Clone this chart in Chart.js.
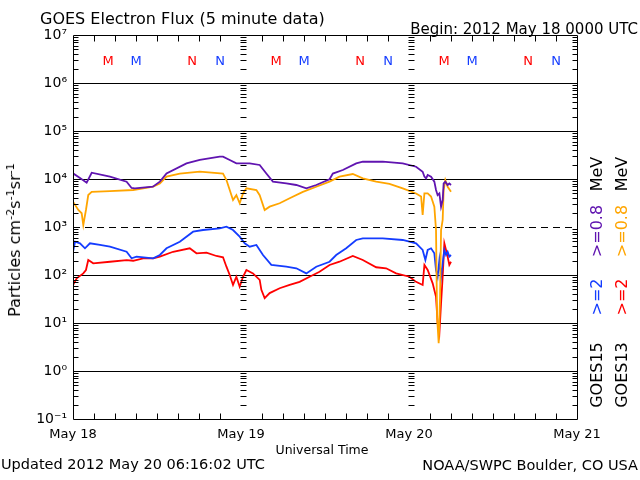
<!DOCTYPE html>
<html><head><meta charset="utf-8">
<script src="https://cdn.jsdelivr.net/npm/chart.js@4"></script>
<style>
html,body{margin:0;padding:0;background:#fff;}
#wrap{position:relative;width:640px;height:480px;overflow:hidden;font-family:"DejaVu Sans",sans-serif;background:#fff;}
canvas{position:absolute;left:0;top:0;}
.t{position:absolute;white-space:nowrap;line-height:1;color:#000;}
.t sup{font-size:70%;vertical-align:0.55em;line-height:0;}
</style></head><body>
<div id="wrap"><canvas id="c" width="640" height="480"></canvas></div>
<script>
// ---- data (hours since 2012-05-18 00:00 UTC, particles cm^-2 s^-1 sr^-1) ----
const dayLabels = ["May 18", "May 19", "May 20", "May 21"];
const yTickValues = [0.1, 1, 10, 100, 1000, 1e4, 1e5, 1e6, 1e7];
const yTickLabels = ["10\u207B\u00B9", "10\u2070", "10\u00B9", "10\u00B2", "10\u00B3", "10\u2074", "10\u2075", "10\u2076", "10\u2077"];
const gridDecades = [1, 10, 100, 1000, 1e4, 1e5, 1e6];
const dashedDecade = 1000;

// GOES15 >=0.8 MeV
const g15_08 = [[0,13100],[1.0,10500],[1.95,8400],[2.67,13500],[5.28,11200],[7.66,8800],[8.37,6500],[8.84,6400],[11.41,6900],[12.41,8800],[13.36,13000],[16.21,21200],[18.11,24900],[20.96,29200],[21.43,29200],[22.39,24900],[23.34,21200],[25.24,21200],[26.67,19600],[27.62,13000],[28.56,8800],[30.47,8100],[31.9,7500],[33.33,6400],[34.75,7500],[36.65,9900],[37.12,13000],[38.55,15400],[40.46,21200],[41.4,22900],[44.25,22900],[47.1,21200],[49.01,18000],[49.95,14200],[50.2,11200],[50.44,10300],[50.67,12100],[51.15,11200],[51.62,8800],[51.86,5900],[52.09,4600],[52.34,5000],[52.58,2650],[52.81,3650],[52.95,8100],[53.19,8800],[53.52,7500],[53.76,8100],[54.0,7500]];
// GOES13 >=0.8 MeV
const g13_08 = [[0,3370],[0.76,2260],[1.24,1930],[1.47,1100],[1.85,2260],[2.18,4640],[2.67,5400],[5.28,5600],[8.6,5900],[11.45,6900],[12.41,8100],[13.36,11200],[15.26,13000],[18.11,14200],[21.43,13000],[21.92,9500],[22.39,5900],[22.86,3650],[23.34,4600],[23.81,3120],[24.29,5000],[24.77,6400],[26.2,5900],[26.67,4600],[27.38,2260],[28.09,2650],[29.52,3120],[30.95,3960],[32.84,5400],[34.75,6900],[36.65,8800],[38.07,11200],[39.97,12700],[41.4,10300],[43.31,8800],[45.21,7900],[47.1,6400],[49.01,5000],[49.73,4300],[49.95,1780],[50.2,5000],[50.67,5000],[51.15,4300],[51.62,2650],[51.86,866],[52.01,13.5],[52.24,3.8],[52.44,35],[52.58,866],[52.81,1400],[52.95,5900],[53.19,9500],[53.52,6900],[54.0,5400]];
// GOES15 >=2 MeV
const g15_2 = [[0,305],[0.29,494],[1.0,457],[1.71,360],[2.42,457],[3.85,422],[5.28,389],[7.66,305],[8.37,223],[9.08,241],[11.45,223],[12.41,261],[13.36,360],[15.26,494],[17.16,798],[18.58,866],[20.96,939],[21.92,1015],[22.86,866],[23.81,628],[24.53,457],[25.24,389],[26.2,422],[27.14,261],[28.33,162],[30.47,149],[31.9,138],[33.33,108],[34.75,149],[36.65,189],[37.6,261],[39.03,360],[40.46,536],[41.4,582],[44.25,582],[47.1,536],[49.01,457],[49.95,332],[50.34,205],[50.67,332],[51.15,360],[51.62,283],[51.86,127],[52.09,92],[52.34,205],[52.58,92],[52.81,175],[53.05,332],[53.29,261],[53.52,305],[53.76,241],[54.0,261]];
// GOES13 >=2 MeV
const g13_2 = [[0,62],[0.53,85],[1.47,108],[1.85,127],[2.18,205],[2.89,175],[5.28,189],[7.66,205],[8.6,198],[10.02,223],[11.45,223],[12.41,241],[14.3,305],[16.68,360],[17.64,283],[19.07,292],[20.49,249],[21.43,234],[21.92,149],[22.39,100],[22.86,62],[23.34,92],[23.81,57],[24.29,92],[24.77,127],[25.71,108],[26.67,79],[26.91,49],[27.38,33],[28.09,42],[29.52,53],[30.95,62],[32.37,72],[33.8,92],[35.22,117],[36.65,162],[38.07,189],[39.97,249],[41.4,205],[43.31,145],[44.73,138],[46.16,108],[48.06,92],[49.01,72],[49.95,62],[50.2,162],[50.67,127],[51.38,67],[51.86,35],[52.09,9.9],[52.34,6.1],[52.58,26],[52.81,92],[53.05,457],[53.29,332],[53.52,241],[53.76,162],[54.0,189]];

// local midnight (M) / noon (N) markers, hours UT
const g13Midnight = [5, 29, 53];
const g13Noon = [17, 41, 65];
const g15Midnight = [9, 33, 57];
const g15Noon = [21, 45, 69];

const PURPLE = "rgb(96,20,176)", ORANGE = "rgb(255,165,0)", BLUE = "rgb(20,60,255)", RED = "rgb(255,0,0)";

function pts(arr){ return arr.map(p => ({x: p[0], y: p[1]})); }

const decor = {
  id: "decor",
  beforeDatasetsDraw(chart){
    const {ctx, chartArea: a, scales: {y}} = chart;
    ctx.save();
    ctx.strokeStyle = "#000"; ctx.lineWidth = 1;
    gridDecades.forEach(v => {
      const py = Math.round(y.getPixelForValue(v)) + 0.5;
      ctx.setLineDash(v === dashedDecade ? [7,5] : []);
      ctx.beginPath(); ctx.moveTo(a.left, py); ctx.lineTo(a.right, py); ctx.stroke();
    });
    ctx.restore();
  },
  afterDatasetsDraw(chart){
    const {ctx, chartArea: a, scales: {x, y}} = chart;
    ctx.save();
    ctx.strokeStyle = "#000"; ctx.lineWidth = 1; ctx.setLineDash([]);
    const L = Math.round(a.left) + 0.5, R = Math.round(a.right) + 0.5;
    const T = Math.round(a.top) + 0.5, B = Math.round(a.bottom) + 0.5;
    ctx.beginPath(); ctx.rect(L, T, R - L, B - T); ctx.stroke();
    // log minor ticks (left, right, day boundaries)
    const dayLines = [24, 48].map(h => Math.round(x.getPixelForValue(h)) + 0.5);
    ctx.beginPath();
    for (let e = -1; e <= 6; e++) {
      for (let m = 2; m <= 9; m++) {
        const py = Math.round(y.getPixelForValue(m * Math.pow(10, e))) + 0.5;
        ctx.moveTo(L, py); ctx.lineTo(L + 5, py);
        ctx.moveTo(R, py); ctx.lineTo(R - 5, py);
        dayLines.forEach(px => { ctx.moveTo(px - 1, py); ctx.lineTo(px + 5, py); });
      }
    }
    // 3-hour ticks top and bottom
    for (let h = 3; h < 72; h += 3) {
      if (h % 24 === 0) continue;
      const px = Math.round(x.getPixelForValue(h)) + 0.5;
      ctx.moveTo(px, T); ctx.lineTo(px, T + 6);
      ctx.moveTo(px, B); ctx.lineTo(px, B - 6);
    }
    ctx.stroke();
    // M / N markers
    ctx.font = "13px 'DejaVu Sans'";
    ctx.textAlign = "center"; ctx.textBaseline = "middle";
    const my = a.top + 27;
    const put = (arr, txt, col) => { ctx.fillStyle = col; arr.forEach(h => ctx.fillText(txt, x.getPixelForValue(h), my)); };
    put(g13Midnight, "M", RED); put(g15Midnight, "M", BLUE);
    put(g13Noon, "N", RED); put(g15Noon, "N", BLUE);
    ctx.restore();
  }
};

const ds = (label, arr, col) => ({label, data: pts(arr), borderColor: col, backgroundColor: col, borderWidth: 1.8, pointRadius: 0, tension: 0, fill: false});

new Chart(document.getElementById("c"), {
  type: "line",
  data: { datasets: [
    ds("GOES15 >=0.8 MeV", g15_08, PURPLE),
    ds("GOES13 >=0.8 MeV", g13_08, ORANGE),
    ds("GOES15 >=2 MeV", g15_2, BLUE),
    ds("GOES13 >=2 MeV", g13_2, RED)
  ]},
  options: {
    responsive: false, animation: false,
    layout: { padding: { left: 0, top: 35, right: 63, bottom: 0 } },
    plugins: { legend: { display: false }, tooltip: { enabled: false }, title: { display: false } },
    scales: {
      x: {
        type: "linear", min: 0, max: 72,
        grid: { display: false, drawTicks: false }, border: { display: false },
        ticks: { stepSize: 24, autoSkip: false, maxRotation: 0, padding: 8, color: "#000",
          font: { family: "DejaVu Sans", size: 13 },
          callback: v => dayLabels[Math.round(v / 24)] },
        afterFit: s => { s.height = 61; }
      },
      y: {
        type: "logarithmic", min: 0.1, max: 1e7,
        grid: { display: false, drawTicks: false }, border: { display: false },
        afterBuildTicks: s => { s.ticks = yTickValues.map(v => ({ value: v })); },
        ticks: { padding: 6, color: "#000", font: { family: "DejaVu Sans", size: 14 },
          callback: (v, i) => yTickLabels[i] },
        afterFit: s => { s.width = 73; }
      }
    }
  },
  plugins: [decor]
});

// ---- text overlays ----
const wrap = document.getElementById("wrap");
function txt(html, x, y, size, opts = {}){
  const d = document.createElement("div");
  d.className = "t";
  d.innerHTML = html;
  d.style.fontSize = size + "px";
  d.style.left = x + "px"; d.style.top = y + "px";
  d.style.color = opts.color || "#000";
  const ax = opts.anchor === "right" ? "-100%" : opts.anchor === "center" ? "-50%" : "0";
  d.style.transform = `translate(${ax},-50%)` + (opts.rot ? " rotate(-90deg)" : "");
  if (opts.rot) { d.style.transform = "translate(-50%,-50%) rotate(-90deg)"; }
  wrap.appendChild(d);
  return d;
}
txt("GOES Electron Flux (5 minute data)", 40, 19, 16);
txt("Begin: 2012 May 18 0000 UTC", 638, 29, 15, {anchor: "right"});
txt("Universal Time", 322, 450, 12.5, {anchor: "center"});
txt("Updated 2012 May 20 06:16:02 UTC", 1, 464, 14.5);
txt("NOAA/SWPC Boulder, CO USA", 638, 465, 14.5, {anchor: "right"});
txt("Particles cm<sup>-2</sup>s<sup>-1</sup>sr<sup>-1</sup>", 15, 240, 16, {rot: true});
// right-hand rotated legend columns
const col1 = 597, col2 = 622;
txt("GOES15", col1, 375, 16, {rot: true});
txt("&gt;=2", col1, 297, 16, {rot: true, color: BLUE});
txt("&gt;=0.8", col1, 231, 16, {rot: true, color: PURPLE});
txt("MeV", col1, 174, 16, {rot: true});
txt("GOES13", col2, 375, 16, {rot: true});
txt("&gt;=2", col2, 297, 16, {rot: true, color: RED});
txt("&gt;=0.8", col2, 231, 16, {rot: true, color: ORANGE});
txt("MeV", col2, 174, 16, {rot: true});
</script>
</body></html>
